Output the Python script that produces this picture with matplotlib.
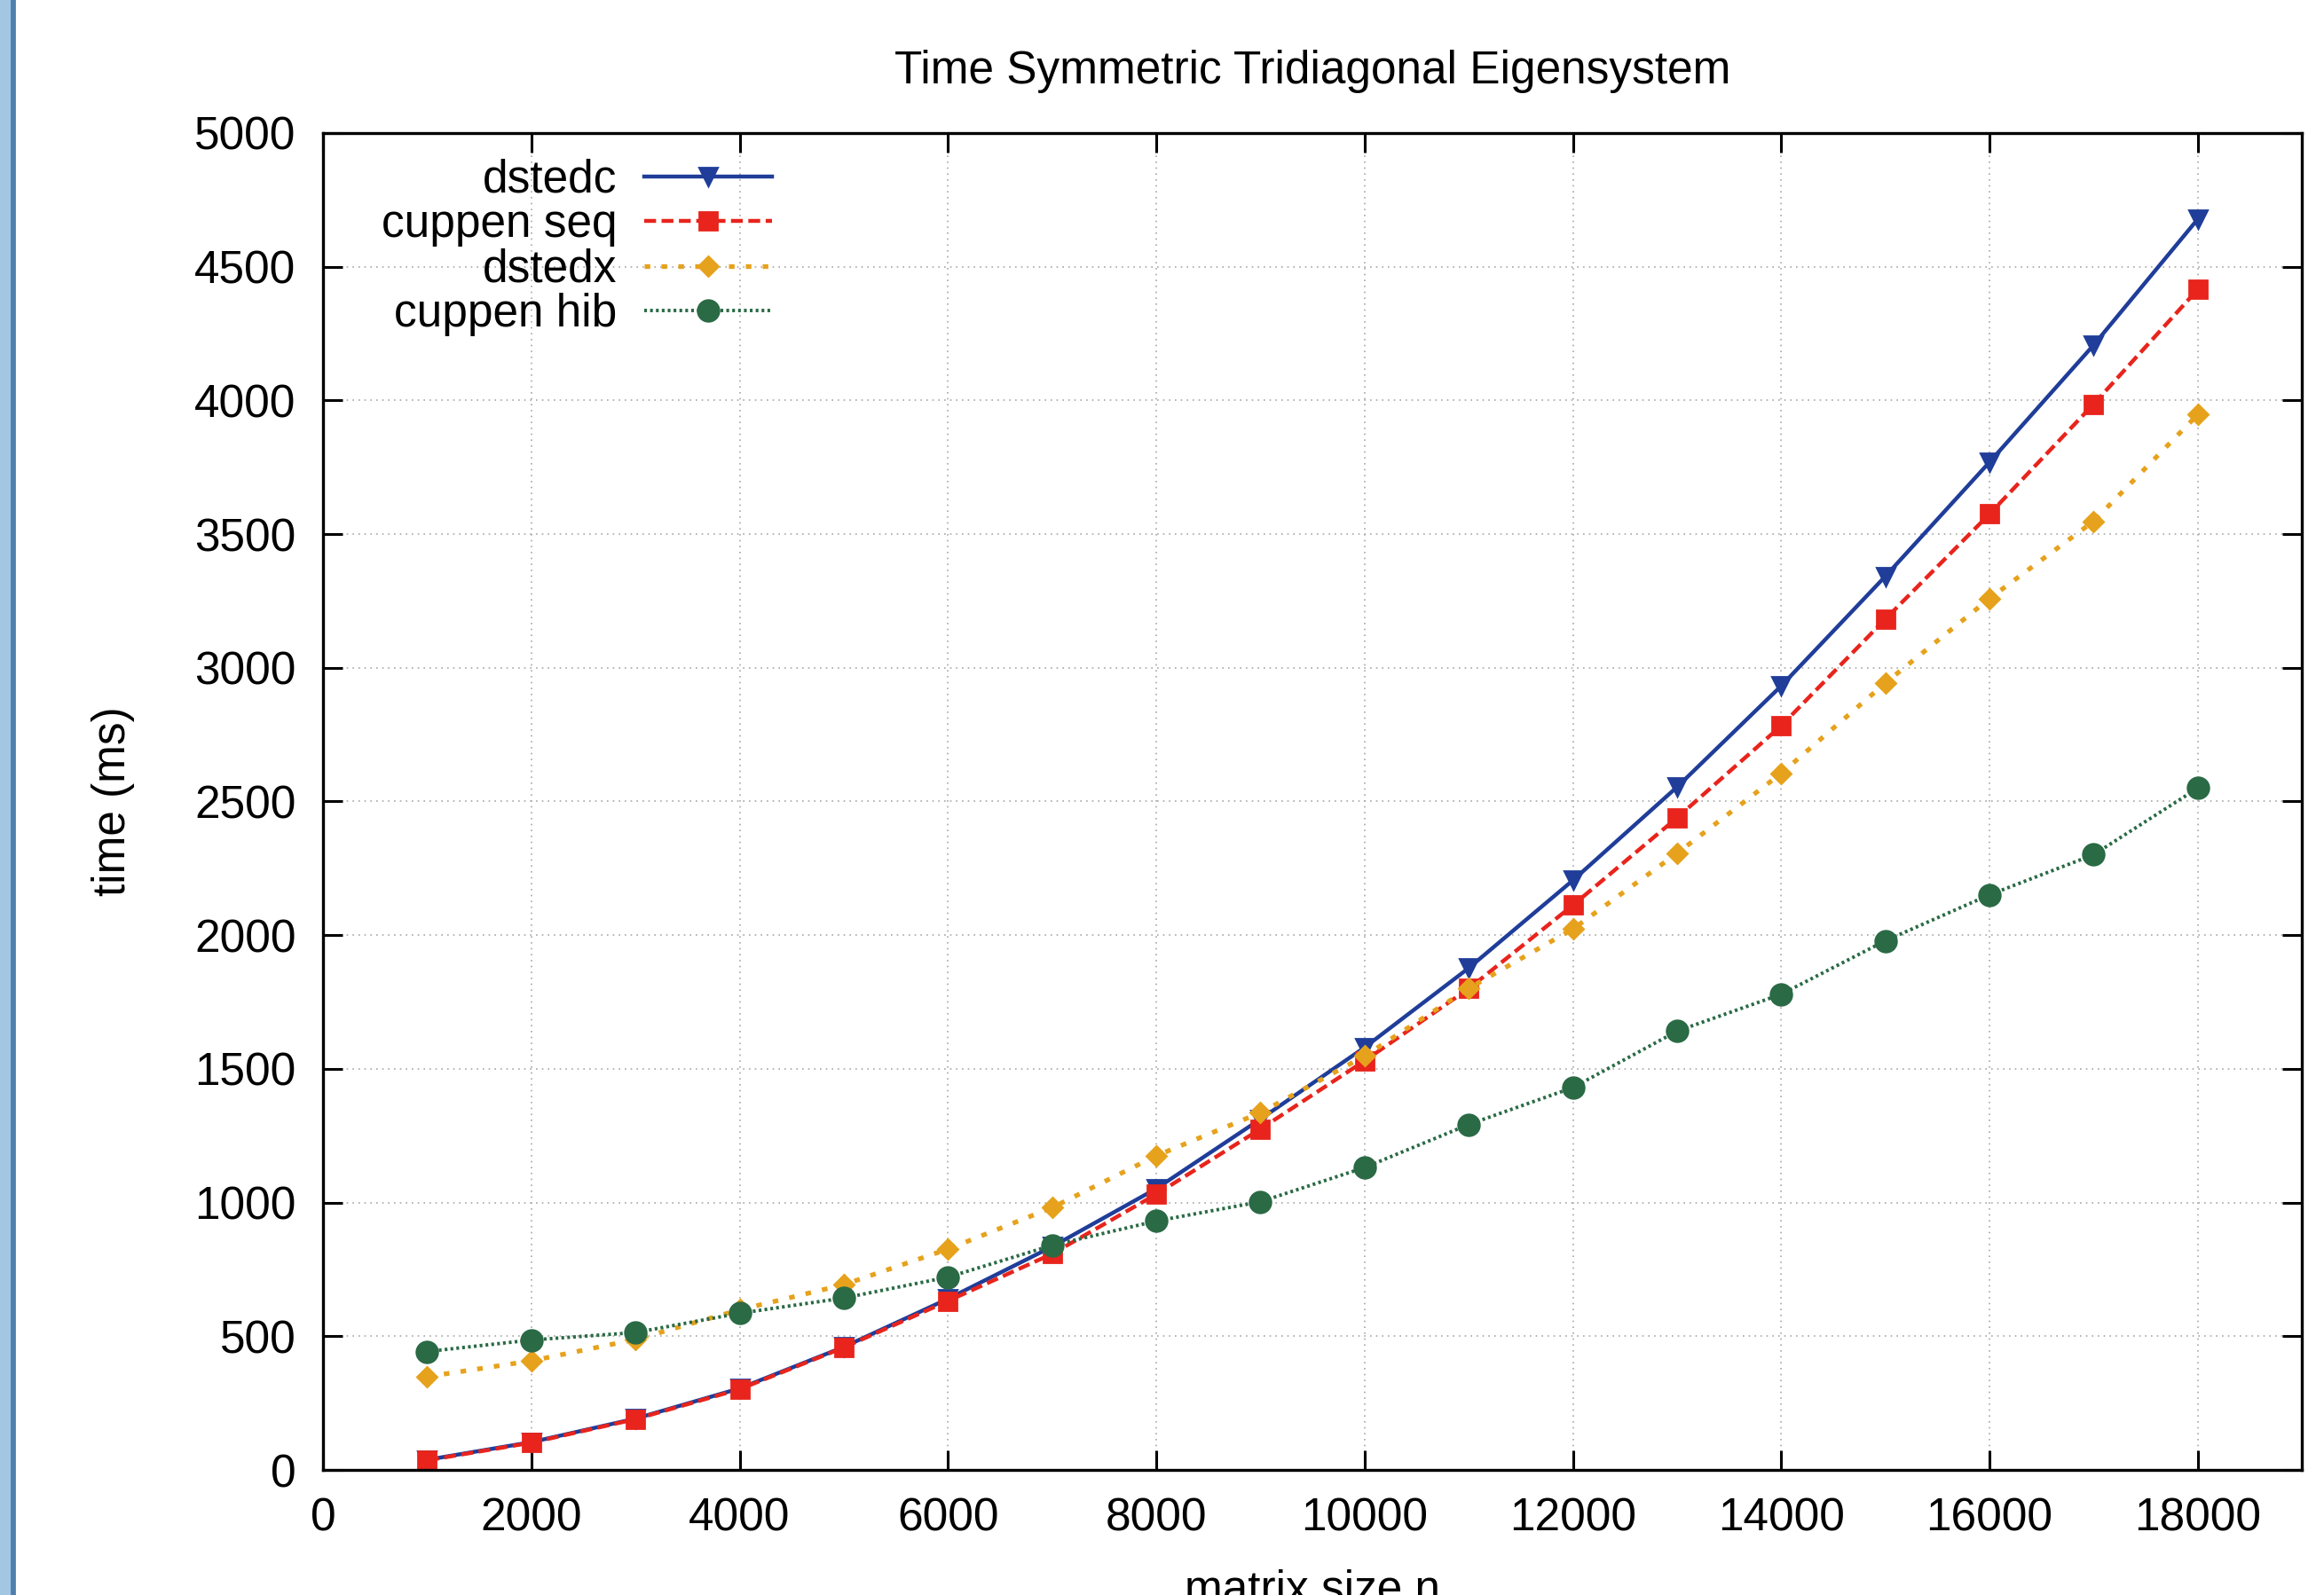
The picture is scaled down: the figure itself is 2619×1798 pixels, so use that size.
import matplotlib
matplotlib.use("Agg")
import matplotlib.pyplot as plt
from matplotlib.patches import Rectangle

# -------- DATA ------------------------------------------------------
sizes = [1000, 2000, 3000, 4000, 5000, 6000, 7000, 8000, 9000,
         10000, 11000, 12000, 13000, 14000, 15000, 16000, 17000, 18000]
dstedc = [38, 104, 192, 305, 460, 640, 835, 1052, 1312,
          1580, 1877, 2205, 2554, 2932, 3342, 3769, 4207, 4678]
cuppen_seq = [36, 102, 190, 302, 458, 632, 808, 1031, 1275,
              1530, 1800, 2112, 2439, 2783, 3182, 3575, 3986, 4415]
dstedx = [349, 408, 488, 599, 693, 826, 981, 1175, 1336,
          1548, 1801, 2023, 2306, 2605, 2943, 3259, 3548, 3947]
cuppen_hib = [443, 486, 514, 586, 643, 721, 840, 931, 1003,
              1131, 1292, 1430, 1641, 1779, 1979, 2151, 2301, 2550]
# --------------------------------------------------------------------

plt.rcParams["font.family"] = ["Liberation Sans", "DejaVu Sans"]
FS = 18.5

fig = plt.figure(figsize=(13.095, 8.99), dpi=200)
ax = fig.add_axes([0.139, 0.0784, 0.8515, 0.8382])

series = [
    ("dstedc", dstedc, dict(color="#1f3d99", ls="-", marker="v", ms=7.0, lw=1.6)),
    ("cuppen seq", cuppen_seq, dict(color="#e8241c", ls=(0, (3, 1.4)), marker="s", ms=7.5, lw=1.6)),
    ("dstedx", dstedx, dict(color="#e6a21c", ls=(0, (1.2, 2.4)), marker="D", ms=5.5, lw=1.9)),
    ("cuppen hib", cuppen_hib, dict(color="#2a6a45", ls=(0, (0.8, 0.9)), marker="o", ms=8.5, lw=1.4)),
]

for name, vals, st in series:
    ax.plot(sizes, vals, label=name, color=st["color"], linestyle=st["ls"],
            linewidth=st["lw"], marker=st["marker"], markersize=st["ms"],
            markerfacecolor=st["color"], markeredgecolor=st["color"])

ax.set_xlim(0, 19000)
ax.set_ylim(0, 5000)
ax.set_xticks(range(0, 18001, 2000))
ax.set_yticks(range(0, 5001, 500))
ax.grid(True, color="#a8a8a8", linestyle=(0, (1, 3)), linewidth=0.6)
ax.tick_params(direction="in", length=8, width=1.1, top=True, right=True,
               labelsize=FS, pad=11)
for sp in ax.spines.values():
    sp.set_linewidth(1.2)

ax.set_title("Time Symmetric Tridiagonal Eigensystem", fontsize=FS, pad=20)
ax.set_xlabel("matrix size n", fontsize=FS, labelpad=11.5)
ax.set_ylabel("time (ms)", fontsize=FS, labelpad=24)

# gnuplot-style key: labels right-aligned, sample after the text
ax.legend(loc="upper right", bbox_to_anchor=(0.227, 0.981), frameon=False,
          markerfirst=False, fontsize=FS, handlelength=2.8,
          labelspacing=0.03, handletextpad=0.6, borderaxespad=0, borderpad=0)

# window border strip on the left
fig.add_artist(Rectangle((0, 0), 13 / 2619, 1, transform=fig.transFigure,
                         color="#a3c6e2", zorder=10))
fig.add_artist(Rectangle((13 / 2619, 0), 3 / 2619, 1, transform=fig.transFigure,
                         color="#4f7faa", zorder=10))

fig.savefig("out.png", dpi=200, facecolor="white")
